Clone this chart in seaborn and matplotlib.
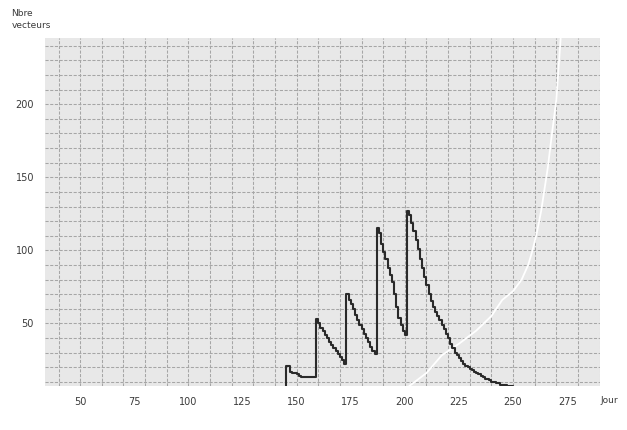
import pandas as pd
import matplotlib
matplotlib.use('Agg')
import matplotlib.pyplot as plt
import seaborn as sns

# daily count of vectors (sawtooth releases every 14 days)
days = list(range(144, 251))
vectors = [
    0,
    21, 21, 17, 16, 16, 15, 14, 13, 13, 13, 13, 13, 13, 13,
    53, 50, 47, 45, 42, 40, 37, 35, 33, 31, 29, 27, 25, 22,
    70, 66, 63, 60, 56, 52, 49, 46, 43, 40, 37, 34, 31, 29,
    115, 112, 104, 99, 94, 88, 83, 78, 70, 61, 54, 49, 45, 42,
    127, 124, 119, 113, 107, 101, 94, 88, 82, 76, 70, 65, 61, 58,
    55, 52, 49, 46, 43, 40, 36, 33, 30, 28, 26, 24, 22, 21,
    20, 19, 18, 17, 16, 15, 14, 13, 12, 12, 11, 10, 10, 9,
    9, 8, 8, 8, 7, 7, 7, 7,
]

# faint white curve rising at the right
white_days = [202, 210, 217, 225, 233, 240, 245, 250, 254, 257, 259, 261, 263, 266, 268, 270, 272]
white_vals = [7, 16, 28, 36, 45, 55, 66, 72, 80, 90, 100, 112, 127, 156, 180, 203, 245]

x_ticks = [50, 75, 100, 125, 150, 175, 200, 225, 250, 275]
y_ticks = [50, 100, 150, 200]

df = pd.DataFrame({'jour': days, 'n': vectors})
df_w = pd.DataFrame({'jour': white_days, 'n': white_vals})

sns.set_style('white')
fig = plt.figure(figsize=(6.27, 4.3), dpi=100)
ax = fig.add_axes([0.072, 0.102, 0.885, 0.81])
ax.set_facecolor('#e8e8e8')

# grid every 10 units, both ways
for gx in range(40, 291, 10):
    ax.axvline(gx, color='#a6a6a6', lw=0.75, ls=(0, (3, 1.5)), zorder=1)
for gy in range(10, 246, 10):
    ax.axhline(gy, color='#a6a6a6', lw=0.75, ls=(0, (3, 1.5)), zorder=1)

sns.lineplot(data=df_w, x='jour', y='n', sort=False, color='white', lw=1.3, ax=ax, zorder=2)
sns.lineplot(data=df, x='jour', y='n', color='#2a2a2a', lw=1.5, drawstyle='steps-post', ax=ax, zorder=3)

ax.set_xlim(33.8, 290.2)
ax.set_ylim(7, 245.5)
ax.set_xticks(x_ticks)
ax.set_yticks(y_ticks)
ax.tick_params(length=0, labelsize=7, colors='#3a3a3a', pad=8)
ax.set_xlabel('')
ax.set_ylabel('')
for s in ax.spines.values():
    s.set_visible(False)

fig.text(0.018, 0.968, 'Nbre', fontsize=6.5, color='#3a3a3a', va='center')
fig.text(0.018, 0.94, 'vecteurs', fontsize=6.5, color='#3a3a3a', va='center')
fig.text(0.958, 0.068, 'Jour', fontsize=6.5, color='#3a3a3a', va='center')

fig.savefig('out.png', dpi=100)
